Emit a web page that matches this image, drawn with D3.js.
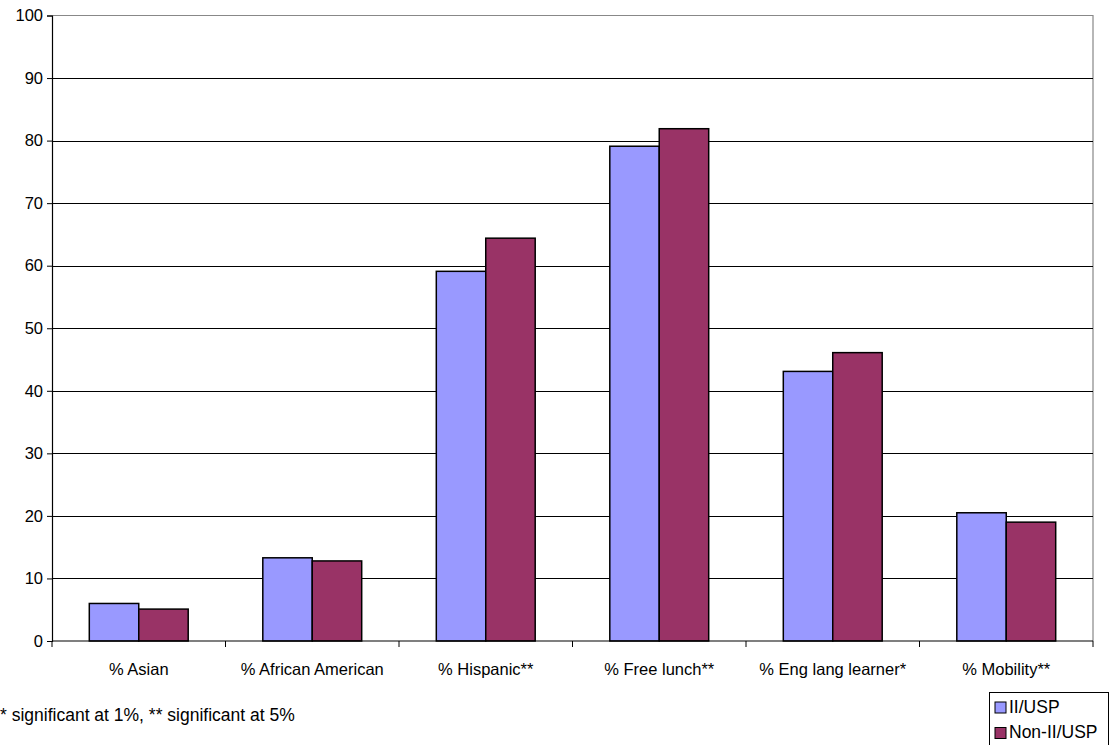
<!DOCTYPE html>
<html>
<head>
<meta charset="utf-8">
<script src="https://cdn.jsdelivr.net/npm/d3@7"></script>
<style>
  html, body { margin: 0; padding: 0; background: #fff; }
  svg { display: block; font-family: "Liberation Sans", Arial, sans-serif; }
</style>
</head>
<body>
<svg id="chart" width="1113" height="745"></svg>
<script>
// School characteristics by group
const categories = ["% Asian", "% African American", "% Hispanic**", "% Free lunch**", "% Eng lang learner*", "% Mobility**"];
const seriesNames = ["II/USP", "Non-II/USP"];
const iiUsp = [6.0, 13.3, 59.1, 79.1, 43.1, 20.5];
const nonIiUsp = [5.1, 12.8, 64.4, 81.9, 46.1, 19.0];
const yTicks = [0, 10, 20, 30, 40, 50, 60, 70, 80, 90, 100];
const footnote = "* significant at 1%, ** significant at 5%";

const colors = ["#9999FF", "#993366"];
const svg = d3.select("#chart");

const m = { left: 52, right: 1093, top: 15.5, bottom: 641 };

const x = d3.scaleBand().domain(categories).range([m.left, m.right]).paddingInner(0.43).paddingOuter(0.215);
const xSub = d3.scaleBand().domain(seriesNames).range([0, x.bandwidth()]).padding(0);
const y = d3.scaleLinear().domain([0, 100]).range([m.bottom, m.top]);

// plot frame (top and right edges)
svg.append("path")
  .attr("d", `M${m.left},${m.top}H${m.right}V${m.bottom}`)
  .attr("fill", "none").attr("stroke", "#888").attr("stroke-width", 1.2);

// horizontal gridlines
svg.append("g").selectAll("line")
  .data(yTicks.filter(t => t > 0 && t < 100))
  .join("line")
  .attr("x1", m.left).attr("x2", m.right)
  .attr("y1", d => Math.round(y(d)) + 0.5).attr("y2", d => Math.round(y(d)) + 0.5)
  .attr("stroke", "#000").attr("stroke-width", 1);

// bars
const rows = categories.map((c, i) => ({ c, vals: [iiUsp[i], nonIiUsp[i]] }));
svg.append("g").selectAll("g")
  .data(rows)
  .join("g")
  .attr("transform", d => `translate(${x(d.c)},0)`)
  .selectAll("rect")
  .data(d => d.vals.map((v, j) => ({ v, s: seriesNames[j], j })))
  .join("rect")
  .attr("x", d => xSub(d.s))
  .attr("width", xSub.bandwidth())
  .attr("y", d => y(d.v))
  .attr("height", d => y(0) - y(d.v))
  .attr("fill", d => colors[d.j])
  .attr("stroke", "#000").attr("stroke-width", 1.5);

// y axis
const yAxis = d3.axisLeft(y).tickValues(yTicks).tickSize(5).tickPadding(4);
const gy = svg.append("g").attr("transform", `translate(${m.left},0)`).call(yAxis);
gy.select(".domain").attr("stroke", "#000").attr("stroke-width", 1.2);
gy.selectAll(".tick line").attr("stroke", "#000");
gy.selectAll(".tick text").attr("font-size", 16.5).attr("fill", "#000")
  .attr("font-family", "Liberation Sans, Arial, sans-serif");

// x axis baseline and category separators
svg.append("line").attr("x1", m.left).attr("x2", m.right)
  .attr("y1", m.bottom).attr("y2", m.bottom)
  .attr("stroke", "#000").attr("stroke-width", 1.2);
const bounds = d3.range(categories.length + 1).map(i => m.left + (m.right - m.left) * i / categories.length);
svg.append("g").selectAll("line").data(bounds).join("line")
  .attr("x1", d => d).attr("x2", d => d)
  .attr("y1", m.bottom).attr("y2", m.bottom + 6)
  .attr("stroke", "#000").attr("stroke-width", 1);
svg.append("g").selectAll("text").data(categories).join("text")
  .attr("x", d => x(d) + x.bandwidth() / 2)
  .attr("y", 675)
  .attr("text-anchor", "middle")
  .attr("font-size", 16.5)
  .text(d => d);

// footnote
svg.append("text").attr("x", 0).attr("y", 721).attr("font-size", 17.5).text(footnote);

// legend
const lg = svg.append("g").attr("transform", "translate(989,692)");
lg.append("rect").attr("x", 0.5).attr("y", 0.5).attr("width", 119).attr("height", 55)
  .attr("fill", "#fff").attr("stroke", "#000").attr("stroke-width", 1);
seriesNames.forEach((s, i) => {
  const g = lg.append("g").attr("transform", `translate(6,${10 + i * 25.5})`);
  g.append("rect").attr("width", 11).attr("height", 11)
    .attr("fill", colors[i]).attr("stroke", "#000").attr("stroke-width", 1);
  g.append("text").attr("x", 14).attr("y", 10.5).attr("font-size", 17.5).text(s);
});
</script>
</body>
</html>
